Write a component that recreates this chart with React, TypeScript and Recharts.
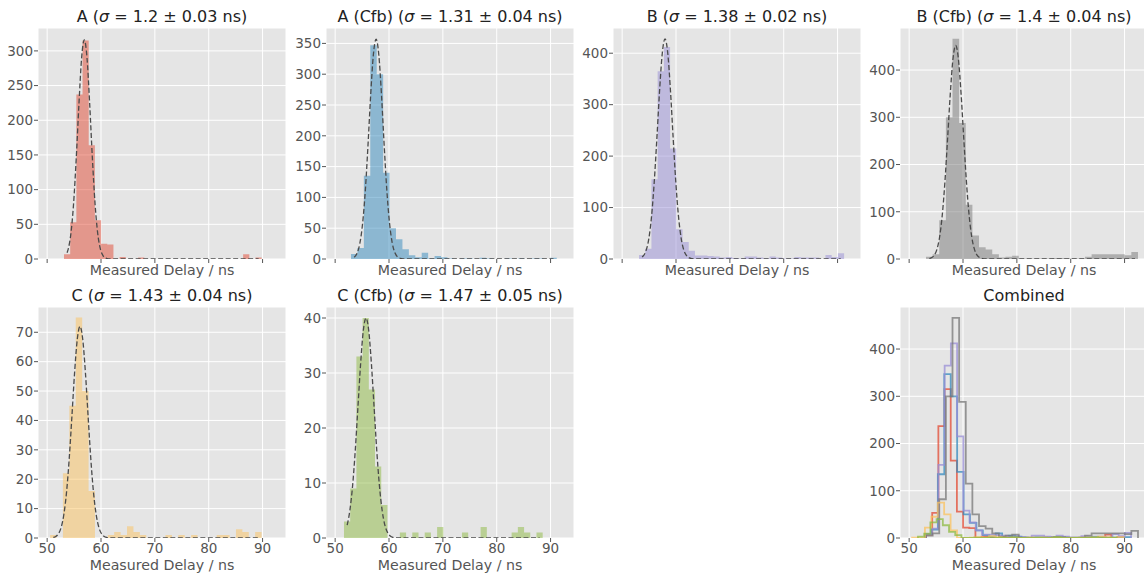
import { Area, CartesianGrid, ComposedChart, Line, XAxis, YAxis } from 'recharts';
import type { ReactNode } from 'react';

const FONT = '"DejaVu Sans", sans-serif';

// histogram counts, equal-width bins starting at *_START
const A_COUNTS = [7, 53, 237, 315, 164, 56, 22, 21, 0, 3, 0, 0, 2, 0, 0, 0, 0, 0, 0, 0, 0, 0, 0, 0, 0, 0, 0, 0, 0, 7, 0, 2];
const A_START = 53.13;
const A_WIDTH = 1.147;

const AC_COUNTS = [8, 18, 135, 347, 300, 140, 50, 32, 16, 6, 3, 10, 1, 5, 3, 1, 0, 1, 1, 0, 2, 1, 0, 0, 1, 0, 1, 0, 1, 1, 0, 2];
const AC_START = 52.94;
const AC_WIDTH = 1.194;

const B_COUNTS = [8, 20, 155, 365, 412, 215, 58, 33, 16, 7, 7, 6, 5, 3, 4, 2, 1, 5, 5, 3, 1, 5, 3, 1, 1, 4, 3, 3, 3, 0, 8, 4, 11];
const B_START = 53.13;
const B_WIDTH = 1.154;

const BC_COUNTS = [5, 10, 82, 300, 466, 288, 115, 50, 25, 20, 10, 3, 5, 7, 1, 1, 1, 1, 1, 2, 2, 1, 1, 1, 5, 10, 10, 10, 10, 10, 8, 15];
const BC_START = 53.13;
const BC_WIDTH = 1.23;

const C_COUNTS = [1, 0, 22, 45, 75, 50, 16, 0, 0, 1, 2, 1, 4, 2, 1, 0, 0, 0, 1, 0, 1, 0, 1, 0, 0, 0, 1, 1, 0, 3, 2, 0, 2];
const C_START = 50.55;
const C_WIDTH = 1.19;

const CC_COUNTS = [3, 9, 33, 40, 27, 13, 6, 0, 0, 1, 0, 1, 0, 1, 0, 2, 0, 0, 0, 1, 0, 0, 2, 0, 0, 0, 0, 1, 2, 1, 0, 1];
const CC_START = 51.64;
const CC_WIDTH = 1.153;

// fitted gaussian curves
const A_FIT_X = [53.7, 53.9, 54.4, 54.9, 55.4, 55.9, 56.4, 56.9, 57.4, 57.9, 58.4, 58.9, 59.4, 59.9, 60.4, 60.9, 61.4, 89.27];
const A_FIT_Y = [9, 14, 36, 79, 145, 223, 290, 316, 290, 223, 145, 79, 36, 14, 4.5, 1.2, 0.3, 0];

const AC_FIT_X = [53.54, 54.1, 54.6, 55.1, 55.6, 56.1, 56.6, 57.1, 57.6, 58.1, 58.6, 59.1, 59.6, 60.1, 60.6, 61.1, 61.6, 62.1, 62.6, 90.54];
const AC_FIT_Y = [2.9, 10, 26, 58, 111, 185, 267, 332, 357, 332, 267, 185, 111, 58, 26, 10, 3.4, 1, 0.2, 0];

const B_FIT_X = [53.71, 53.96, 54.46, 54.96, 55.46, 55.96, 56.46, 56.96, 57.46, 57.96, 58.46, 58.96, 59.46, 59.96, 60.46, 60.96, 61.46, 61.96, 62.46, 62.96, 63.46, 90.6];
const B_FIT_Y = [3.7, 6.4, 17, 40, 83, 150, 237, 329, 401, 428, 401, 329, 237, 150, 83, 40, 17, 6.4, 2.1, 0.6, 0.15, 0];

const BC_FIT_X = [53.75, 54.14, 54.64, 55.14, 55.64, 56.14, 56.64, 57.14, 57.64, 58.14, 58.64, 59.14, 59.64, 60.14, 60.64, 61.14, 61.64, 62.14, 62.64, 63.14, 63.64, 64.14, 91.94];
const BC_FIT_Y = [1, 2.6, 7.6, 19.9, 45.5, 92, 163, 255, 350, 424, 452, 424, 350, 255, 163, 92, 45.5, 19.9, 7.6, 2.6, 0.77, 0.2, 0];

const C_FIT_X = [51.15, 51.6, 52.1, 52.6, 53.1, 53.6, 54.1, 54.6, 55.1, 55.6, 56.1, 56.6, 57.1, 57.6, 58.1, 58.6, 59.1, 59.6, 60.1, 60.6, 61.1, 61.6, 89.22];
const C_FIT_Y = [0.18, 0.51, 1.44, 3.6, 8, 15.6, 27.1, 41.5, 56.4, 67.7, 72, 67.7, 56.4, 41.5, 27.1, 15.6, 8, 3.6, 1.44, 0.51, 0.16, 0.04, 0];

const CC_FIT_X = [52.23, 52.73, 53.23, 53.73, 54.23, 54.73, 55.23, 55.73, 56.23, 56.73, 57.23, 57.73, 58.23, 58.73, 59.23, 59.73, 60.23, 60.73, 61.23, 87.96];
const CC_FIT_Y = [2.35, 5, 9.4, 15.85, 23.8, 31.7, 37.75, 40, 37.75, 31.7, 23.8, 15.85, 9.4, 5, 2.35, 0.99, 0.37, 0.12, 0.04, 0];

const X_DOMAIN: [number, number] = [48.3, 94.35];
const X_TICKS = [50, 60, 70, 80, 90];
const X_LABEL = 'Measured Delay / ns';

const COLORS = {
  A: '#E24A33',
  AC: '#348ABD',
  B: '#988ED5',
  BC: '#777777',
  C: '#FBC15E',
  CC: '#8EBA42',
};

const PLOT_W = 248;
const PLOT_H = 231;
const Y_AXIS_W = 40;
const X_AXIS_H = 40;
const COL_X = [38, 326, 613, 900];
const ROW_Y = [28, 307];

type Pt = { x: number; y: number };

function binPoints(start: number, width: number, counts: number[]): Pt[] {
  const pts = counts.map((c, i) => ({ x: start + i * width, y: c }));
  pts.push({ x: start + counts.length * width, y: counts[counts.length - 1] });
  return pts;
}

function stepPoints(start: number, width: number, counts: number[]): Pt[] {
  const pts = binPoints(start, width, counts);
  return [{ x: start, y: 0 }, ...pts, { x: pts[pts.length - 1].x, y: 0 }];
}

function fitPoints(xs: number[], ys: number[]): Pt[] {
  return xs.map((x, i) => ({ x, y: ys[i] }));
}

function Title({ name, sigma }: { name: string; sigma: string }) {
  return (
    <>
      {name} (<i>σ</i> = {sigma} ns)
    </>
  );
}

interface PanelProps {
  col: number;
  row: number;
  title: ReactNode;
  yMax: number;
  yTicks: number[];
  children: ReactNode;
}

function Panel({ col, row, title, yMax, yTicks, children }: PanelProps) {
  const left = COL_X[col];
  const top = ROW_Y[row];
  const showX = row === 1;
  return (
    <>
      <div
        style={{
          position: 'absolute',
          left,
          top: top - 19,
          width: PLOT_W,
          textAlign: 'center',
          fontSize: 16,
          lineHeight: 1,
          color: '#222',
          whiteSpace: 'nowrap',
        }}
      >
        {title}
      </div>
      <div style={{ position: 'absolute', left: left - Y_AXIS_W, top }}>
        <ComposedChart
          width={Y_AXIS_W + PLOT_W}
          height={PLOT_H + X_AXIS_H}
          margin={{ top: 0, right: 0, bottom: 0, left: 0 }}
        >
          <CartesianGrid fill="#E5E5E5" fillOpacity={1} stroke="#ffffff" strokeWidth={1} />
          <XAxis
            type="number"
            dataKey="x"
            domain={X_DOMAIN}
            ticks={X_TICKS}
            interval={0}
            allowDataOverflow
            height={X_AXIS_H}
            tickSize={4}
            tickMargin={1}
            axisLine={false}
            tickLine={{ stroke: '#555' }}
            tick={{ fontSize: 13.5, fill: '#555' }}
            tickFormatter={(v) => (showX ? String(v) : '')}
            label={{ value: X_LABEL, position: 'insideBottom', offset: showX ? 8 : 24, fill: '#555', fontSize: 14.2 }}
          />
          <YAxis
            type="number"
            domain={[0, yMax]}
            ticks={yTicks}
            interval={0}
            allowDataOverflow
            width={Y_AXIS_W}
            tickSize={4}
            tickMargin={1}
            axisLine={false}
            tickLine={{ stroke: '#555' }}
            tick={{ fontSize: 13.5, fill: '#555' }}
          />
          {children}
        </ComposedChart>
      </div>
    </>
  );
}

function histSeries(start: number, width: number, counts: number[], color: string, fitX: number[], fitY: number[]) {
  return [
    <Area
      key="hist"
      data={binPoints(start, width, counts)}
      dataKey="y"
      type="stepAfter"
      stroke="none"
      fill={color}
      fillOpacity={0.5}
      isAnimationActive={false}
    />,
    <Line
      key="fit"
      data={fitPoints(fitX, fitY)}
      dataKey="y"
      type="monotone"
      stroke="#4a4a4a"
      strokeWidth={1.3}
      strokeDasharray="5 2.5"
      dot={false}
      isAnimationActive={false}
    />,
  ];
}

const COMBINED = [
  { key: 'A', start: A_START, width: A_WIDTH, counts: A_COUNTS, color: COLORS.A },
  { key: 'AC', start: AC_START, width: AC_WIDTH, counts: AC_COUNTS, color: COLORS.AC },
  { key: 'B', start: B_START, width: B_WIDTH, counts: B_COUNTS, color: COLORS.B },
  { key: 'BC', start: BC_START, width: BC_WIDTH, counts: BC_COUNTS, color: COLORS.BC },
  { key: 'C', start: C_START, width: C_WIDTH, counts: C_COUNTS, color: COLORS.C },
  { key: 'CC', start: CC_START, width: CC_WIDTH, counts: CC_COUNTS, color: COLORS.CC },
];

export default function App() {
  return (
    <div
      style={{
        position: 'fixed',
        left: 0,
        top: 0,
        width: 1144,
        height: 575,
        overflow: 'hidden',
        background: '#fff',
        fontFamily: FONT,
      }}
    >
      <Panel col={0} row={0} title={<Title name="A" sigma="1.2 ± 0.03" />} yMax={333} yTicks={[0, 50, 100, 150, 200, 250, 300]}>
        {histSeries(A_START, A_WIDTH, A_COUNTS, COLORS.A, A_FIT_X, A_FIT_Y)}
      </Panel>
      <Panel col={1} row={0} title={<Title name="A (Cfb)" sigma="1.31 ± 0.04" />} yMax={375} yTicks={[0, 50, 100, 150, 200, 250, 300, 350]}>
        {histSeries(AC_START, AC_WIDTH, AC_COUNTS, COLORS.AC, AC_FIT_X, AC_FIT_Y)}
      </Panel>
      <Panel col={2} row={0} title={<Title name="B" sigma="1.38 ± 0.02" />} yMax={449} yTicks={[0, 100, 200, 300, 400]}>
        {histSeries(B_START, B_WIDTH, B_COUNTS, COLORS.B, B_FIT_X, B_FIT_Y)}
      </Panel>
      <Panel col={3} row={0} title={<Title name="B (Cfb)" sigma="1.4 ± 0.04" />} yMax={489} yTicks={[0, 100, 200, 300, 400]}>
        {histSeries(BC_START, BC_WIDTH, BC_COUNTS, COLORS.BC, BC_FIT_X, BC_FIT_Y)}
      </Panel>
      <Panel col={0} row={1} title={<Title name="C" sigma="1.43 ± 0.04" />} yMax={78.6} yTicks={[0, 10, 20, 30, 40, 50, 60, 70]}>
        {histSeries(C_START, C_WIDTH, C_COUNTS, COLORS.C, C_FIT_X, C_FIT_Y)}
      </Panel>
      <Panel col={1} row={1} title={<Title name="C (Cfb)" sigma="1.47 ± 0.05" />} yMax={42} yTicks={[0, 10, 20, 30, 40]}>
        {histSeries(CC_START, CC_WIDTH, CC_COUNTS, COLORS.CC, CC_FIT_X, CC_FIT_Y)}
      </Panel>
      <Panel col={3} row={1} title="Combined" yMax={489} yTicks={[0, 100, 200, 300, 400]}>
        {COMBINED.map((d) => (
          <Line
            key={d.key}
            data={stepPoints(d.start, d.width, d.counts)}
            dataKey="y"
            type="stepAfter"
            stroke={d.color}
            strokeOpacity={0.75}
            strokeWidth={1.8}
            dot={false}
            isAnimationActive={false}
          />
        ))}
      </Panel>
    </div>
  );
}
